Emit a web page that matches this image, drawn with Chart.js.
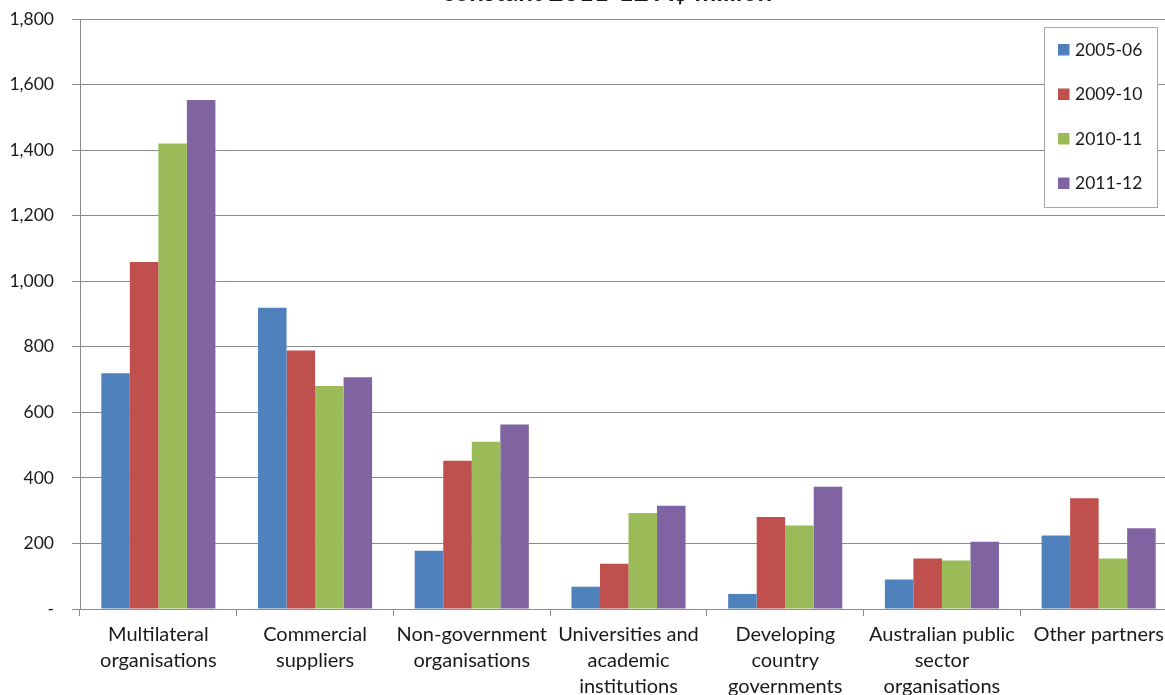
<!DOCTYPE html>
<html>
<head>
<meta charset="utf-8">
<script src="https://cdn.jsdelivr.net/npm/chart.js@4.4.0/dist/chart.umd.min.js"></script>
<style>
  html, body { margin: 0; padding: 0; overflow: hidden; background: #ffffff; }
  #wrap { position: absolute; left: 0; top: 0; width: 1180px; height: 695px; }
</style>
</head>
<body>
<div id="wrap"><canvas id="c"></canvas></div>
<script>
// ---- Data ----
const categories = [
  ["Multilateral", "organisations"],
  ["Commercial", "suppliers"],
  ["Non-government", "organisations"],
  ["Universities and", "academic", "institutions"],
  ["Developing", "country", "governments"],
  ["Australian public", "sector", "organisations"],
  ["Other partners"]
];
const seriesLabels = ["2005-06", "2009-10", "2010-11", "2011-12"];
const values2005 = [719, 919, 178, 68, 46, 90, 224];
const values2009 = [1059, 789, 452, 138, 281, 154, 338];
const values2010 = [1420, 680, 510, 293, 255, 148, 154];
const values2011 = [1553, 707, 563, 315, 373, 205, 246];
const seriesColors = ["#4F81BD", "#C0504D", "#9BBB59", "#8064A2"];
const yTicks = [0, 200, 400, 600, 800, 1000, 1200, 1400, 1600, 1800];
const titleText = "constant 2011-12 A$ million";

const FONT = "Lato, 'Open Sans', 'DejaVu Sans', sans-serif";
const TEXT = "#1a1a1a";
const GRID = "#8c8c8c";

const seriesValues = [values2005, values2009, values2010, values2011];

const overlayPlugin = {
  id: "overlay",
  afterDraw(chart) {
    const ctx = chart.ctx;
    const area = chart.chartArea;
    ctx.save();
    // Title (cropped at top as in the reference)
    ctx.fillStyle = TEXT;
    ctx.font = "bold 26px " + FONT;
    ctx.textAlign = "center";
    ctx.textBaseline = "alphabetic";
    ctx.fillText(titleText, 607, 1);

    // Legend box
    const bx = area.right - 133, by = area.top + 8, bw = 113, bh = 180;
    ctx.fillStyle = "#ffffff";
    ctx.fillRect(bx, by, bw, bh);
    ctx.strokeStyle = "#a6a6a6";
    ctx.lineWidth = 1;
    ctx.strokeRect(bx + 0.5, by + 0.5, bw, bh);
    ctx.font = "17.5px " + FONT;
    ctx.textAlign = "left";
    ctx.textBaseline = "middle";
    chart.data.datasets.forEach((ds, i) => {
      const cy = by + 23 + i * 44.5;
      ctx.fillStyle = ds.backgroundColor;
      ctx.fillRect(bx + 14, cy - 6, 11.5, 11.5);
      ctx.fillStyle = TEXT;
      ctx.fillText(ds.label, bx + 31, cy);
    });
    ctx.restore();
  }
};

new Chart(document.getElementById("c"), {
  type: "bar",
  data: {
    labels: categories,
    datasets: seriesLabels.map((lab, i) => ({
      label: lab,
      data: seriesValues[i],
      backgroundColor: seriesColors[i],
      borderWidth: 0,
      categoryPercentage: 0.728,
      barPercentage: 1.0
    }))
  },
  options: {
    responsive: true,
    maintainAspectRatio: false,
    animation: false,
    devicePixelRatio: 1,
    layout: { padding: { top: 19, right: 3, left: 0, bottom: 0 } },
    plugins: {
      legend: { display: false },
      title: { display: false },
      tooltip: { enabled: false }
    },
    scales: {
      x: {
        offset: true,
        grid: {
          offset: true,
          drawOnChartArea: false,
          drawTicks: true,
          tickLength: 7,
          color: GRID
        },
        border: { display: true, color: GRID, width: 1 },
        ticks: {
          color: TEXT,
          font: { family: FONT, size: 20, lineHeight: 1.3 },
          padding: 6,
          maxRotation: 0,
          autoSkip: false
        },
        afterFit(scale) { scale.height = 86; }
      },
      y: {
        min: 0,
        max: 1800,
        afterBuildTicks(scale) { scale.ticks = yTicks.map(v => ({ value: v })); },
        grid: {
          color: GRID,
          lineWidth: 1,
          drawTicks: true,
          tickLength: 8
        },
        border: { display: true, color: GRID, width: 1 },
        ticks: {
          color: TEXT,
          font: { family: FONT, size: 17.5 },
          padding: 18,
          callback(v) { return v === 0 ? "-" : v.toLocaleString("en-US"); }
        },
        afterFit(scale) {
          scale.width = 80;
          scale.paddingTop = 0;
          scale.paddingBottom = 0;
        }
      }
    }
  },
  plugins: [overlayPlugin]
});
</script>
</body>
</html>
